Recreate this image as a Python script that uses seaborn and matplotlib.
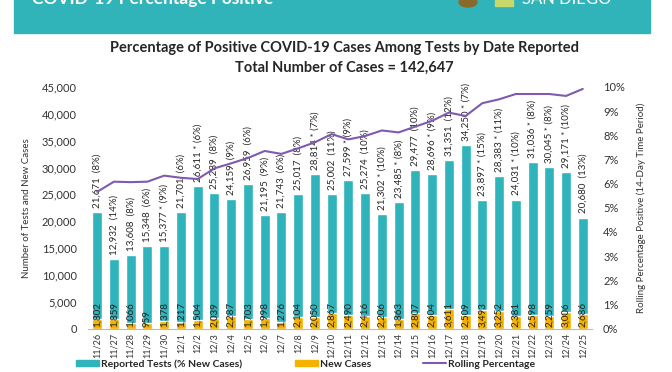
import numpy as np
import pandas as pd
import matplotlib
matplotlib.use("Agg")
import matplotlib.pyplot as plt
import matplotlib.patches as mpatches
from matplotlib.lines import Line2D
import seaborn as sns

# data
dates = ["11/26", "11/27", "11/28", "11/29", "11/30", "12/1", "12/2", "12/3", "12/4", "12/5",
         "12/6", "12/7", "12/8", "12/9", "12/10", "12/11", "12/12", "12/13", "12/14", "12/15",
         "12/16", "12/17", "12/18", "12/19", "12/20", "12/21", "12/22", "12/23", "12/24", "12/25"]
tests = [21671, 12932, 13608, 15348, 15377, 21701, 26611, 25289, 24159, 26959,
         21195, 21743, 25017, 28814, 25002, 27599, 25274, 21302, 23485, 29477,
         28696, 31351, 34250, 23897, 28383, 24031, 31036, 30045, 29171, 20680]
new_pct = [8, 14, 8, 6, 9, 6, 6, 8, 9, 6,
           9, 6, 8, 7, 11, 9, 10, 10, 8, 10,
           9, 12, 7, 15, 11, 10, 8, 8, 10, 13]
starred = [0, 0, 0, 0, 1, 0, 1, 0, 0, 0,
           0, 0, 0, 1, 0, 1, 0, 1, 1, 0,
           1, 0, 1, 1, 1, 1, 1, 1, 1, 0]
cases = [1802, 1859, 1066, 959, 1378, 1217, 1504, 2039, 2287, 1703,
         1998, 1276, 2104, 2050, 2867, 2490, 2416, 2206, 1863, 2807,
         2604, 3611, 2509, 3493, 3252, 2381, 2598, 2259, 3006, 2686]
rolling = [5.66, 6.08, 6.06, 6.08, 6.33, 6.24, 6.19, 6.63, 6.84, 7.06,
           7.35, 7.23, 7.46, 7.71, 8.05, 7.83, 7.97, 8.2, 8.12, 8.36,
           8.6, 8.94, 8.8, 9.33, 9.49, 9.71, 9.71, 9.71, 9.63, 9.92]

teal = "#2EB4BA"
amber = "#F5B300"
purple = "#7E5AB0"

df = pd.DataFrame({"date": dates, "tests": tests, "cases": cases,
                   "rolling": rolling, "idx": np.arange(len(dates))})

sns.set_style("white")
plt.rcParams["font.family"] = ["Lato", "DejaVu Sans"]

fig = plt.figure(figsize=(6.72, 3.72), dpi=100)

# header band (its title is cut by the top edge, as in the source image)
fig.patches.append(mpatches.Rectangle((14 / 672, 1 - 33 / 372), 636 / 672, 33 / 372,
                                      transform=fig.transFigure, color="#30B4BA", zorder=0))
fig.text(32 / 672, 1 - 4 / 372, "COVID-19 Percentage Positive", color="white",
         fontsize=12.5, fontweight="bold", va="baseline")
fig.patches.append(mpatches.Circle((468 / 672, 1 - 2 / 372), 9 / 672, transform=fig.transFigure,
                                   color="#8a6a2a", zorder=1))
fig.patches.append(mpatches.Rectangle((495 / 672, 1 - 6 / 372), 18 / 672, 6 / 372,
                                      transform=fig.transFigure, color="#c9d86a", zorder=1))
fig.text(522 / 672, 1 - 4 / 372, "SAN DIEGO", color="white", fontsize=12, va="baseline")

ax = fig.add_axes([88 / 672, 1 - 328.5 / 372, 504 / 672, 241.5 / 372])
sns.barplot(data=df, x="date", y="tests", color=teal, saturation=1, width=0.6, ax=ax)
sns.barplot(data=df, x="date", y="cases", color=amber, saturation=1, width=0.6, ax=ax)

test_labels = ["{:,}{} ({}%)".format(t, " *" if s else " ", p)
               for t, s, p in zip(tests, starred, new_pct)]
ax.bar_label(ax.containers[0], labels=test_labels, rotation=90, padding=3, fontsize=7)
for i, c in enumerate(cases):
    ax.annotate("{:,}".format(c), (i, 0), xytext=(0, 1), textcoords="offset points",
                rotation=90, ha="center", va="bottom", fontsize=7, color="#222222")

ax.set_ylim(0, 45000)
ax.set_xlim(-0.55, len(dates) - 0.45)
ax.set_yticks(np.arange(0, 45001, 5000))
ax.set_yticklabels(["{:,}".format(v) for v in range(0, 45001, 5000)])
ax.tick_params(axis="y", labelsize=8, colors="#333333", length=0, pad=8)
ax.tick_params(axis="x", labelsize=6.5, rotation=90, length=0, colors="#333333")
ax.set_xlabel("")
ax.set_ylabel("Number of Tests and New Cases", fontsize=7, color="#333333", labelpad=8)
for s in ["top", "right", "left"]:
    ax.spines[s].set_visible(False)
ax.spines["bottom"].set_color("#bbbbbb")

ax2 = ax.twinx()
sns.lineplot(data=df, x="idx", y="rolling", color=purple, linewidth=1.5, ax=ax2)
ax2.set_ylim(0, 10)
ax2.set_yticks(range(0, 11))
ax2.set_yticklabels(["{}%".format(v) for v in range(0, 11)])
ax2.tick_params(axis="y", labelsize=8, colors="#333333", length=0, pad=8)
ax2.set_ylabel("Rolling Percentage Positive (14-Day Time Period)", fontsize=7,
               color="#333333", labelpad=8)
for s in ax2.spines.values():
    s.set_visible(False)

fig.text(0.513, 1 - 48 / 372, "Percentage of Positive COVID-19 Cases Among Tests by Date Reported",
         ha="center", va="center", fontsize=10.5, fontweight="bold")
fig.text(0.513, 1 - 68 / 372, "Total Number of Cases = 142,647",
         ha="center", va="center", fontsize=10.5, fontweight="bold")

handles = [mpatches.Patch(color=teal), mpatches.Patch(color=amber),
           Line2D([], [], color=purple, linewidth=1.5)]
fig.legend(handles, ["Reported Tests (% New Cases)", "New Cases", "Rolling Percentage"],
           loc="center", bbox_to_anchor=(0.455, 1 - 364 / 372), ncol=3, frameon=False,
           prop={"size": 7.5, "weight": "bold"}, columnspacing=5, handlelength=2.2,
           handleheight=0.6, handletextpad=0.2)

fig.savefig("out.png", dpi=100)
